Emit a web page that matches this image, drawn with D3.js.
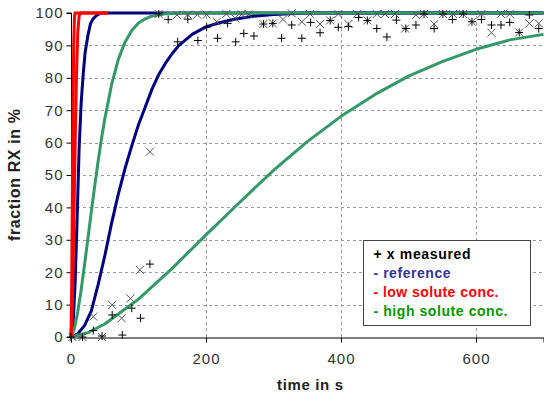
<!DOCTYPE html>
<html>
<head>
<meta charset="utf-8">
<script src="https://cdn.jsdelivr.net/npm/d3@7/dist/d3.min.js"></script>
<style>
  html, body { margin: 0; padding: 0; background: #fff; }
  svg { display: block; }
  text { font-family: "Liberation Sans", Arial, sans-serif; }
</style>
</head>
<body>
<svg id="chart" width="544" height="396"></svg>
<script>
// Model curves: fraction recrystallised (%) over time (s)
const referenceFast = [[0,0],[3,4],[6,16],[9,36],[12,58],[15,72],[18,81],[21,88],[25,93],[29,96.8],[33,98.3],[39,99.4],[45,100],[700,100]];
const referenceSlow = [[0,0],[10,1],[20,3.5],[30,8],[40,16],[50,25],[60,35],[70,44],[80,52],[90,59],[100,65.5],[110,71],[120,76.5],[130,81],[140,84.5],[150,87.5],[160,90],[180,93.5],[200,95.7],[220,97],[240,98],[270,99],[300,99.5],[350,100],[700,100]];
const lowSoluteA = [[0,0],[1,15],[2,42],[3,70],[4,90],[5,98],[6,100],[55,100]];
const lowSoluteB = [[0,0],[2,10],[4,32],[6,58],[8,80],[10,94],[12,99],[14,100],[55,100]];
const highSoluteFast = [[0,0],[5,2.6],[10,7.8],[15,14.5],[20,22.2],[25,30.3],[30,38.5],[35,46.4],[40,54],[45,61],[50,67.3],[60,77.8],[70,85.6],[80,91],[90,94.6],[100,96.9],[110,98.2],[120,99.1],[140,99.75],[160,100],[700,100]];
const highSoluteSlow = [[0,0],[25,1.3],[50,4],[100,11.7],[150,21.2],[200,31.5],[250,41.6],[300,51.4],[350,60.3],[400,68.1],[450,74.8],[500,80.5],[550,85],[600,88.8],[650,91.7],[700,93.4]];

// Measured points (two sample sets)
const measuredPlus = [[0,0],[17,0],[33,2],[46,0.3],[61,6.8],[76,0.6],[90,8.9],[103,5.8],[117,22.5],[130,99.7],[144,98],[158,91.1],[173,98.1],[188,91.5],[201,95.6],[217,92.2],[232,96.8],[244,91.1],[256,93.7],[271,92.9],[285,96.6],[299,96.8],[312,92.2],[327,96.3],[342,92.2],[355,97.1],[369,93.9],[384,97.7],[396,95.6],[411,95.8],[426,98.6],[439,97.7],[453,95.2],[468,92.6],[482,97.8],[496,95.2],[511,96.3],[523,99.7],[538,95.2],[551,99.7],[565,98],[581,99.7],[594,97.3],[608,98],[623,96.3],[637,96.3],[650,97.1],[664,94],[679,99.4],[693,95.2]];
const measuredCross = [[2,0],[17,0],[33,6.3],[46,0],[61,9.9],[75,5.8],[88,11.9],[102,20.7],[117,57.2],[130,99.7],[157,99.4],[173,99.5],[187,99.5],[201,99.5],[216,97.3],[230,99.7],[243,98.4],[253,99.6],[263,99.6],[285,96.6],[299,96.8],[314,98],[327,99.9],[342,97.3],[354,99.7],[369,96.6],[384,97.7],[396,99.7],[411,96.6],[424,99.7],[439,97.7],[453,99.7],[465,99.7],[480,99.7],[495,95.2],[511,99.4],[523,99.7],[538,96.6],[551,99.7],[566,99.7],[581,99.7],[594,97.3],[608,99.7],[623,93.9],[637,99.7],[650,99.7],[664,94],[679,96.8],[693,96.8]];

const xTicks = [0, 200, 400, 600];
const yTicks = [0, 10, 20, 30, 40, 50, 60, 70, 80, 90, 100];
const legendItems = [
  {text: "+ x measured", color: "#000000", len: 97},
  {text: "- reference", color: "#333399", len: 77},
  {text: "- low solute conc.", color: "#ff0000", len: 125},
  {text: "- high solute conc.", color: "#009900", len: 134}
];

const svg = d3.select("#chart");
const x = d3.scaleLinear().domain([0, 700]).range([71, 543.5]);
const y = d3.scaleLinear().domain([0, 100]).range([337, 13]);

// dashed grid
const grid = svg.append("g");
grid.selectAll("line.h").data(yTicks.filter(d => d > 0 && d < 100)).join("line")
  .attr("x1", x(0)).attr("x2", x(700))
  .attr("y1", d => Math.round(y(d)) + 0.5).attr("y2", d => Math.round(y(d)) + 0.5)
  .attr("stroke", "#999").attr("stroke-dasharray", "3,3");
grid.selectAll("line.v").data(xTicks.filter(d => d > 0)).join("line")
  .attr("y1", y(0)).attr("y2", y(100))
  .attr("x1", d => Math.round(x(d)) + 0.5).attr("x2", d => Math.round(x(d)) + 0.5)
  .attr("stroke", "#999").attr("stroke-dasharray", "3,3");

// axes
const yAxis = d3.axisLeft(y).tickValues(yTicks).tickSize(5).tickPadding(3);
const xAxis = d3.axisBottom(x).tickValues(xTicks).tickSize(5).tickPadding(11);
const gy = svg.append("g").attr("transform", `translate(${Math.round(x(0)) + 0.5},0)`).call(yAxis);
const gx = svg.append("g").attr("transform", `translate(0,${Math.round(y(0)) + 0.5})`).call(xAxis);
[gx, gy].forEach(g => {
  g.select(".domain").attr("stroke", "#000");
  g.selectAll(".tick line").attr("stroke", "#000");
  g.selectAll(".tick text").attr("font-family", "Liberation Sans, Arial, sans-serif")
    .attr("font-size", 15).attr("letter-spacing", 1).attr("fill", "#333");
});
gy.select(".domain").attr("d", `M-5,${y(100)}H0V${y(0)}`);

// curves
const line = d3.line().x(d => x(d[0])).y(d => y(d[1]));
const curves = [
  {data: referenceFast, color: "#000080"},
  {data: referenceSlow, color: "#000080"},
  {data: highSoluteFast, color: "#339966"},
  {data: highSoluteSlow, color: "#339966"},
  {data: lowSoluteB, color: "#ff0000"},
  {data: lowSoluteA, color: "#ff0000"}
];
svg.append("g").selectAll("path").data(curves).join("path")
  .attr("d", d => line(d.data))
  .attr("fill", "none").attr("stroke", d => d.color).attr("stroke-width", 3)
  .attr("stroke-linejoin", "round");

// markers
const m = 4;
svg.append("g").selectAll("path").data(measuredCross).join("path")
  .attr("d", d => { const cx = x(d[0]), cy = y(d[1]); return `M${cx-m},${cy-m}L${cx+m},${cy+m}M${cx-m},${cy+m}L${cx+m},${cy-m}`; })
  .attr("stroke", "#555").attr("stroke-width", 1).attr("fill", "none");
svg.append("g").selectAll("path").data(measuredPlus).join("path")
  .attr("d", d => { const cx = x(d[0]), cy = y(d[1]); return `M${cx-m},${cy}L${cx+m},${cy}M${cx},${cy-m}L${cx},${cy+m}`; })
  .attr("stroke", "#000").attr("stroke-width", 1).attr("fill", "none");

// axis titles
svg.append("text").attr("x", 310).attr("y", 390).attr("text-anchor", "middle")
  .attr("font-weight", "bold").attr("font-size", 15).attr("fill", "#222")
  .attr("textLength", 66).attr("lengthAdjust", "spacing").text("time in s");
svg.append("text").attr("transform", "translate(20,175) rotate(-90)").attr("text-anchor", "middle")
  .attr("font-weight", "bold").attr("font-size", 16).attr("fill", "#222")
  .attr("textLength", 132).attr("lengthAdjust", "spacing").text("fraction RX in %");

// legend
const lg = svg.append("g").attr("transform", "translate(363.5,240.5)");
lg.append("rect").attr("width", 167).attr("height", 85).attr("fill", "#fff").attr("stroke", "#444");
lg.selectAll("text").data(legendItems).join("text")
  .attr("x", 10).attr("y", (d, i) => 18 + i * 19)
  .attr("font-weight", "bold").attr("font-size", 14).attr("fill", d => d.color)
  .attr("textLength", d => d.len).attr("lengthAdjust", "spacing")
  .text(d => d.text);
</script>
</body>
</html>
